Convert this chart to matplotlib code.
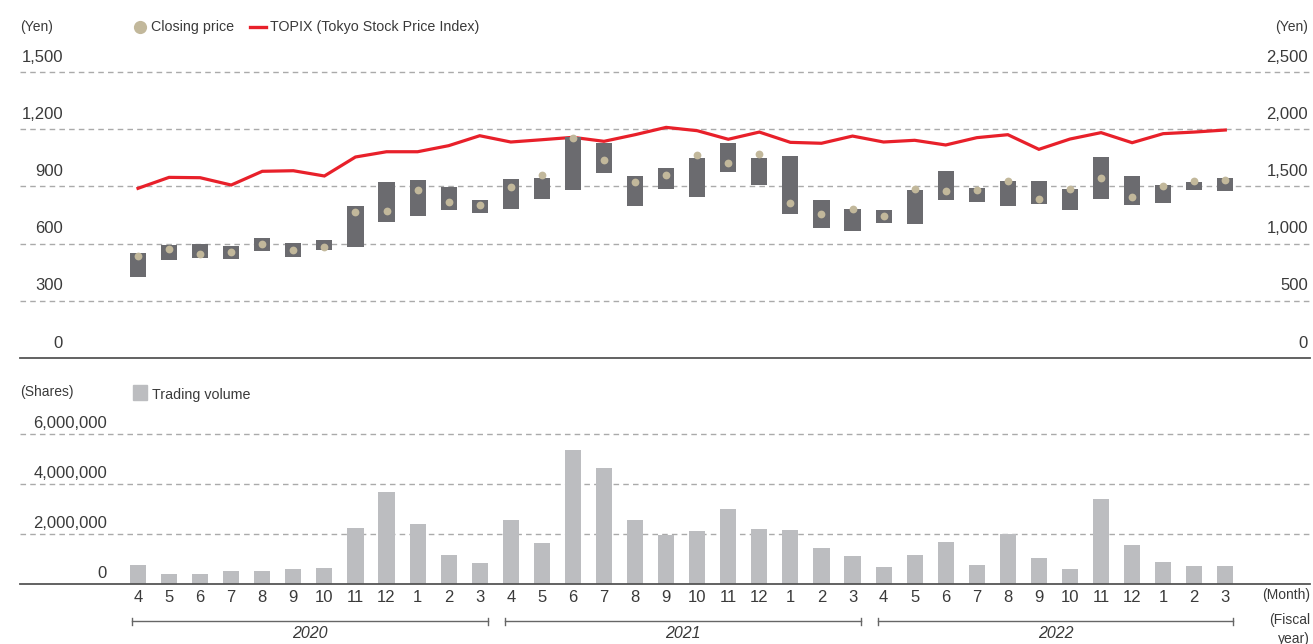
import matplotlib
matplotlib.use("Agg")
import matplotlib.pyplot as plt
import numpy as np

plt.rcParams['font.family'] = ['Liberation Sans', 'DejaVu Sans']

# ---------------- data ----------------
months = [4, 5, 6, 7, 8, 9, 10, 11, 12, 1, 2, 3] * 3
fiscal_years = ['2020', '2021', '2022']

price_high = [549, 591, 597, 586, 628, 602, 618, 796, 921, 931, 895, 827,
              937, 942, 1158, 1127, 952, 994, 1047, 1130, 1047, 1057, 827, 780,
              775, 879, 982, 890, 926, 926, 884, 1052, 952, 905, 921, 942]
price_low = [425, 514, 525, 520, 562, 530, 567, 583, 713, 745, 776, 761,
             781, 834, 881, 970, 797, 886, 844, 975, 907, 755, 682, 666,
             708, 703, 829, 818, 797, 807, 776, 834, 802, 813, 881, 876]
closing_price = [534, 570, 543, 556, 597, 565, 583, 764, 773, 883, 820, 801,
                 895, 961, 1153, 1041, 923, 959, 1066, 1024, 1069, 811, 755, 783,
                 743, 888, 877, 881, 930, 836, 886, 942, 846, 902, 926, 931]
topix = [1483, 1579, 1576, 1512, 1632, 1637, 1591, 1757, 1803, 1803, 1856, 1943,
         1888, 1908, 1929, 1894, 1952, 2016, 1987, 1912, 1975, 1885, 1877, 1940,
         1888, 1903, 1862, 1926, 1952, 1824, 1914, 1970, 1882, 1961, 1975, 1993]
trading_volume = [760000, 400000, 400000, 520000, 520000, 600000, 640000, 2240000, 3670000, 2400000, 1160000, 840000,
                  2560000, 1640000, 5350000, 4630000, 2560000, 1970000, 2120000, 2990000, 2200000, 2160000, 1440000, 1120000,
                  680000, 1160000, 1680000, 760000, 2000000, 1040000, 600000, 3390000, 1560000, 880000, 720000, 720000]

price_ticks = [0, 300, 600, 900, 1200, 1500]
topix_ticks = [0, 500, 1000, 1500, 2000, 2500]
volume_ticks = [0, 2000000, 4000000, 6000000]

# ---------------- style ----------------
W, H = 1313, 644
BAR_DARK = '#6b6b6f'
DOT = '#c2b89b'
RED = '#e8202a'
VOL = '#bcbdc0'
GRID = '#aaaaaa'
AXIS = '#555555'
TXT = '#3a3a3a'

fig = plt.figure(figsize=(W / 100, H / 100), dpi=100)
fig.patch.set_facecolor('white')


def ax_rect(left, top, right, bottom):
    return [left / W, 1 - bottom / H, (right - left) / W, (bottom - top) / H]


def fpt(x, y):
    return x / W, 1 - y / H


x = np.arange(len(months))
x0_px, dx_px = 138.0, 31.066
xlim = ((20 - x0_px) / dx_px, (1310 - x0_px) / dx_px)

# ---------------- top panel ----------------
ax = fig.add_axes(ax_rect(20, 72, 1310, 358))
ax.set_xlim(*xlim)
ax.set_ylim(0, 1500)
for s in ax.spines.values():
    s.set_visible(False)
ax.set_xticks([])
ax.set_yticks([])

ax2 = ax.twinx()
ax2.set_ylim(0, 2500)
for s in ax2.spines.values():
    s.set_visible(False)
ax2.set_yticks([])
ax2.plot(x, topix, color=RED, lw=2.3, zorder=4, solid_joinstyle='miter')

# price axes drawn above TOPIX line
ax.set_zorder(ax2.get_zorder() + 1)
ax.patch.set_visible(False)

for v in price_ticks[1:]:
    ax2.axhline(v * 2500 / 1500, color=GRID, lw=1, ls=(0, (4, 3)), zorder=0, clip_on=False)
ax.axhline(0, color=AXIS, lw=1.3, zorder=1, clip_on=False)

heights = np.array(price_high) - np.array(price_low)
ax.bar(x, heights, bottom=price_low, width=0.52, color=BAR_DARK, zorder=2)
ax.plot(x, closing_price, 'o', color=DOT, markersize=5.6, markeredgewidth=0, zorder=3)

for v in price_ticks:
    ax.annotate(f'{v:,}', xy=(0, v), xycoords=ax.get_yaxis_transform(),
                xytext=(43, 15), textcoords='offset pixels',
                ha='right', va='center', fontsize=12, color=TXT, annotation_clip=False)
for v in topix_ticks:
    ax2.annotate(f'{v:,}', xy=(1, v), xycoords=ax2.get_yaxis_transform(),
                 xytext=(-2, 15), textcoords='offset pixels',
                 ha='right', va='center', fontsize=12, color=TXT, annotation_clip=False)

# legend / unit labels (top)
fig.text(*fpt(20, 27), '(Yen)', ha='left', va='center', fontsize=10, color=TXT)
fig.text(*fpt(1308, 27), '(Yen)', ha='right', va='center', fontsize=10, color=TXT)
fig.lines.append(plt.Line2D([140 / W], [1 - 27 / H], marker='o', markersize=9.5,
                            color=DOT, markeredgewidth=0, transform=fig.transFigure))
fig.text(*fpt(151, 27), 'Closing price', ha='left', va='center', fontsize=10.3, color=TXT)
fig.lines.append(plt.Line2D([250 / W, 266 / W], [1 - 27 / H, 1 - 27 / H], color=RED, lw=2.4,
                            transform=fig.transFigure))
fig.text(*fpt(270, 27), 'TOPIX (Tokyo Stock Price Index)', ha='left', va='center',
         fontsize=10.3, color=TXT)

# ---------------- bottom panel ----------------
bx = fig.add_axes(ax_rect(20, 434, 1310, 584))
bx.set_xlim(*xlim)
bx.set_ylim(0, 6000000)
for s in bx.spines.values():
    s.set_visible(False)
bx.set_xticks([])
bx.set_yticks([])
for v in volume_ticks[1:]:
    bx.axhline(v, color=GRID, lw=1, ls=(0, (4, 3)), zorder=0, clip_on=False)
bx.axhline(0, color=AXIS, lw=1.3, zorder=3, clip_on=False)
bx.bar(x, trading_volume, width=0.52, color=VOL, zorder=2)

for v in volume_ticks:
    bx.annotate(f'{v:,}', xy=(0, v), xycoords=bx.get_yaxis_transform(),
                xytext=(87, 11), textcoords='offset pixels',
                ha='right', va='center', fontsize=12, color=TXT, annotation_clip=False)

fig.text(*fpt(20, 392), '(Shares)', ha='left', va='center', fontsize=10, color=TXT)
fig.patches.append(plt.Rectangle((133 / W, 1 - 400 / H), 14 / W, 15 / H, color=VOL,
                                 transform=fig.transFigure))
fig.text(*fpt(152, 395), 'Trading volume', ha='left', va='center', fontsize=10.3, color=TXT)

# month labels
for xi, m in zip(x, months):
    bx.annotate(str(m), xy=(xi, 0), xycoords='data', xytext=(0, -14),
                textcoords='offset pixels', ha='center', va='center',
                fontsize=12, color=TXT, annotation_clip=False)

# fiscal year brackets
trans = bx.get_xaxis_transform()
yb = -37 / 150
tick_h = 3.5 / 150
for k, fy in enumerate(fiscal_years):
    a = x[k * 12] - 0.18
    b = x[k * 12 + 11] + 0.26
    bx.plot([a, b], [yb, yb], color='#666666', lw=1, transform=trans, clip_on=False)
    for e in (a, b):
        bx.plot([e, e], [yb - tick_h, yb + tick_h], color='#666666', lw=1,
                transform=trans, clip_on=False)
    bx.text((a + b) / 2, -50 / 150, fy, transform=trans, ha='center', va='center',
            fontsize=11.5, style='italic', color=TXT)

fig.text(*fpt(1310, 595), '(Month)', ha='right', va='center', fontsize=10, color=TXT)
fig.text(*fpt(1310, 620), '(Fiscal', ha='right', va='center', fontsize=10, color=TXT)
fig.text(*fpt(1310, 639), 'year)', ha='right', va='center', fontsize=10, color=TXT)

fig.savefig('out.png', dpi=100, facecolor='white')
